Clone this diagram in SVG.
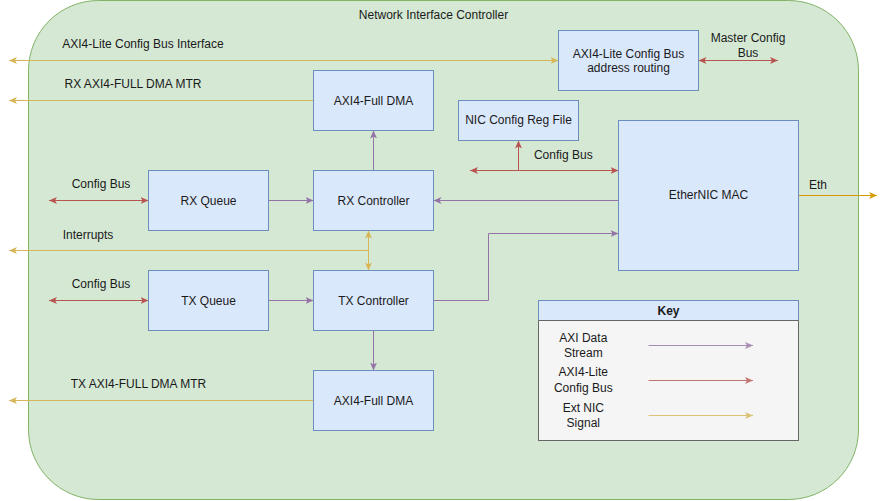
<svg xmlns="http://www.w3.org/2000/svg" width="887" height="501" viewBox="0 0 887 501">
<style>
text{font-family:"Liberation Sans",Arial,sans-serif;font-size:12px;fill:#1a1a1a;text-anchor:middle}
.box{fill:#dae8fc;stroke:#6c8ebf;stroke-width:1}
.c{fill:none;stroke-width:1}
.y{stroke:#d6b656}.r{stroke:#b85450}.p{stroke:#9673a6}.o{stroke:#d79b00}
</style>
<defs>
<marker id="ay" markerUnits="userSpaceOnUse" markerWidth="10" markerHeight="10" refX="8" refY="4" orient="auto-start-reverse"><path d="M0,0.5 L8,4 L0,7.5 L2,4 Z" fill="#d6b656"/></marker>
<marker id="ar" markerUnits="userSpaceOnUse" markerWidth="10" markerHeight="10" refX="8" refY="4" orient="auto-start-reverse"><path d="M0,0.5 L8,4 L0,7.5 L2,4 Z" fill="#b85450"/></marker>
<marker id="ap" markerUnits="userSpaceOnUse" markerWidth="10" markerHeight="10" refX="8" refY="4" orient="auto-start-reverse"><path d="M0,0.5 L8,4 L0,7.5 L2,4 Z" fill="#9673a6"/></marker>
<marker id="ao" markerUnits="userSpaceOnUse" markerWidth="10" markerHeight="10" refX="8" refY="4" orient="auto-start-reverse"><path d="M0,0.5 L8,4 L0,7.5 L2,4 Z" fill="#d79b00"/></marker>
</defs>
<g id="container">
<rect x="28.5" y="0.5" width="830" height="499" rx="70" ry="70" fill="#d5e8d4" stroke="#82b366"/>
<text x="433.5" y="19">Network Interface Controller</text>
</g>
<g id="connectors">
<path class="c y" d="M9,60.5 H558.5" marker-start="url(#ay)" marker-end="url(#ay)"/>
<path class="c y" d="M313.5,100.5 H9" marker-end="url(#ay)"/>
<path class="c r" d="M698.5,60.5 H778" marker-start="url(#ar)" marker-end="url(#ar)"/>
<path class="c p" d="M373.5,170.5 V130.5" marker-end="url(#ap)"/>
<path class="c r" d="M470,170.5 H618.5" marker-start="url(#ar)" marker-end="url(#ar)"/>
<path class="c r" d="M518.5,170.5 V140.5" marker-end="url(#ar)"/>
<path class="c p" d="M618.5,200.5 H433.5" marker-end="url(#ap)"/>
<path class="c p" d="M433.5,300.5 H488.5 V233.5 H618.5" marker-end="url(#ap)"/>
<path class="c o" d="M798.5,195.5 H877" marker-end="url(#ao)"/>
<path class="c p" d="M268.5,200.5 H313.5" marker-end="url(#ap)"/>
<path class="c p" d="M268.5,300.5 H313.5" marker-end="url(#ap)"/>
<path class="c r" d="M49,200.5 H148.5" marker-start="url(#ar)" marker-end="url(#ar)"/>
<path class="c r" d="M49,300.5 H148.5" marker-start="url(#ar)" marker-end="url(#ar)"/>
<path class="c y" d="M368.5,230.5 V270.5" marker-start="url(#ay)" marker-end="url(#ay)"/>
<path class="c y" d="M368.5,250.5 H9" marker-end="url(#ay)"/>
<path class="c p" d="M373.5,330.5 V370.5" marker-end="url(#ap)"/>
<path class="c y" d="M313.5,400.5 H9" marker-end="url(#ay)"/>
<text x="143" y="48">AXI4-Lite Config Bus Interface</text>
<text x="133" y="88">RX AXI4-FULL DMA MTR</text>
<text x="138.5" y="388">TX AXI4-FULL DMA MTR</text>
<text x="88" y="239">Interrupts</text>
<text x="101" y="188">Config Bus</text>
<text x="101" y="288">Config Bus</text>
<text x="563.3" y="158.5">Config Bus</text>
<text x="748" y="42">Master Config</text>
<text x="748" y="56.5">Bus</text>
<text x="818" y="188.5">Eth</text>
</g>
<g id="axi-lite-routing">
<rect class="box" x="558.5" y="30.5" width="140" height="60"/>
<text x="628.5" y="57.5">AXI4-Lite Config Bus</text>
<text x="628.5" y="72">address routing</text>
</g>
<g id="rx-dma">
<rect class="box" x="313.5" y="70.5" width="120" height="60"/>
<text x="373.5" y="104.5">AXI4-Full DMA</text>
</g>
<g id="nic-config-reg">
<rect class="box" x="458.5" y="100.5" width="120" height="40"/>
<text x="518.5" y="123.5">NIC Config Reg File</text>
</g>
<g id="ethernic-mac">
<rect class="box" x="618.5" y="120.5" width="180" height="150"/>
<text x="708.5" y="198.5">EtherNIC MAC</text>
</g>
<g id="rx-queue">
<rect class="box" x="148.5" y="170.5" width="120" height="60"/>
<text x="208.5" y="204.5">RX Queue</text>
</g>
<g id="rx-controller">
<rect class="box" x="313.5" y="170.5" width="120" height="60"/>
<text x="373.5" y="204.5">RX Controller</text>
</g>
<g id="tx-queue">
<rect class="box" x="148.5" y="270.5" width="120" height="60"/>
<text x="208.5" y="304.5">TX Queue</text>
</g>
<g id="tx-controller">
<rect class="box" x="313.5" y="270.5" width="120" height="60"/>
<text x="373.5" y="304.5">TX Controller</text>
</g>
<g id="tx-dma">
<rect class="box" x="313.5" y="370.5" width="120" height="60"/>
<text x="373.5" y="404.5">AXI4-Full DMA</text>
</g>
<g id="key">
<rect x="538.5" y="320.5" width="260" height="120" fill="#f5f5f5" stroke="#666666"/>
<rect x="538.5" y="300.5" width="260" height="20" fill="#dae8fc" stroke="#6c8ebf"/>
<line x1="538.5" y1="320.5" x2="798.5" y2="320.5" stroke="#666666"/>
<text x="668.5" y="314.5" font-weight="bold">Key</text>
<text x="583.3" y="342">AXI Data</text>
<text x="583.3" y="356.5">Stream</text>
<text x="583.3" y="376">AXI4-Lite</text>
<text x="583.3" y="391.5">Config Bus</text>
<text x="583.3" y="411.5">Ext NIC</text>
<text x="583.3" y="426.5">Signal</text>
<g opacity="0.8">
<path class="c p" d="M648.5,345.5 H753" marker-end="url(#ap)" stroke-width="1.5"/>
<path class="c r" d="M648.5,380.5 H753" marker-end="url(#ar)" stroke-width="1.5"/>
<path class="c y" d="M648.5,415.5 H753" marker-end="url(#ay)" stroke-width="1.5"/>
</g>
</g>
</svg>
